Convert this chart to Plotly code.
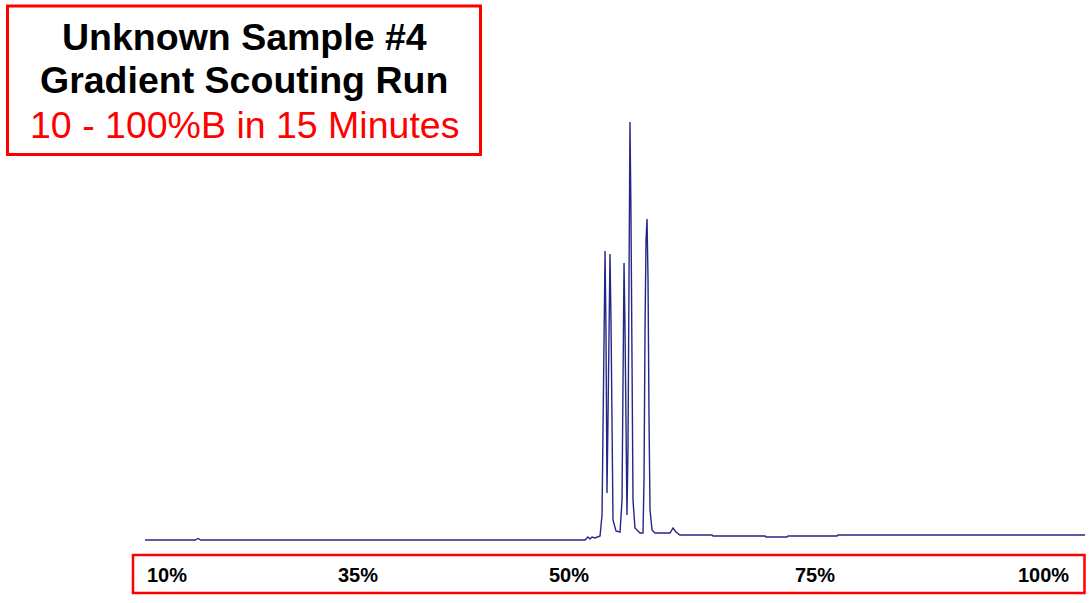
import plotly.graph_objects as go

# Chromatogram trace: retention time (min) and detector signal (mAU)
time_min = [0.00, 0.80, 0.846, 0.89, 7.021, 7.069, 7.101, 7.133, 7.181, 7.229, 7.261,
            7.293, 7.309, 7.325, 7.341, 7.356, 7.372, 7.388, 7.404, 7.420, 7.436, 7.452,
            7.468, 7.516, 7.580, 7.612, 7.628, 7.644, 7.660, 7.676, 7.691, 7.707, 7.723,
            7.739, 7.755, 7.771, 7.787, 7.819, 7.899, 7.947, 7.963, 7.979, 7.995, 8.011,
            8.027, 8.043, 8.059, 8.091, 8.138, 8.378, 8.426, 8.473, 8.537, 9.048, 9.064,
            9.894, 9.910, 10.245, 10.261, 11.043, 11.059, 15.00]
signal_mau = [0, 0, 1.5, 0, 0, 3, 1, 3, 2, 3, 4,
              25, 140, 240, 289, 210, 47, 120, 240, 286, 220, 90,
              20, 9, 8, 40, 190, 277, 210, 90, 25, 90, 290,
              418, 325, 140, 40, 12, 7, 7, 60, 210, 300, 321,
              260, 120, 30, 10, 7, 7, 12, 8, 5, 5, 4,
              4, 3, 3, 4, 4, 5, 5]

# Gradient %B labels and their time positions
gradient_labels = ["10%", "35%", "50%", "75%", "100%"]
gradient_label_time = [0.351, 3.399, 6.766, 10.691, 14.330]

title_lines = ["Unknown Sample #4", "Gradient Scouting Run", "10 - 100%B in 15 Minutes"]

W, H = 1091, 603
px_per_min = 62.667
x0_px = 145
base_py = 540

fig = go.Figure()
fig.add_trace(go.Scatter(x=time_min, y=signal_mau, mode="lines",
                         line=dict(color="#262688", width=1.4),
                         hoverinfo="skip", showlegend=False))

xr = [-x0_px / px_per_min, (W - x0_px) / px_per_min]
yr = [-(H - base_py), base_py]

def px(xp):
    return xp / W

def py(yp):
    return 1 - yp / H

# red boxes
fig.add_shape(type="rect", xref="paper", yref="paper",
              x0=px(7.5), x1=px(480.5), y0=py(154.5), y1=py(6),
              line=dict(color="#ff0000", width=3), fillcolor="rgba(0,0,0,0)")
fig.add_shape(type="rect", xref="paper", yref="paper",
              x0=px(133), x1=px(1084.5), y0=py(593), y1=py(555),
              line=dict(color="#ff0000", width=2.5), fillcolor="rgba(0,0,0,0)")

title_y = [37, 80, 125]
title_col = ["#000000", "#000000", "#ff0000"]
title_bold = [True, True, False]
for t, yy, c, b in zip(title_lines, title_y, title_col, title_bold):
    fig.add_annotation(text=("<b>%s</b>" % t) if b else t, xref="paper", yref="paper",
                       x=px(244), y=py(yy), xanchor="center", yanchor="middle",
                       showarrow=False,
                       font=dict(family="Liberation Sans, Arial", size=37.5, color=c))

for lab, tm in zip(gradient_labels, gradient_label_time):
    fig.add_annotation(text="<b>%s</b>" % lab, xref="x", yref="paper",
                       x=tm, y=py(575), xanchor="center", yanchor="middle",
                       showarrow=False,
                       font=dict(family="Liberation Sans, Arial", size=20, color="#000000"))

fig.update_layout(width=W, height=H, margin=dict(l=0, r=0, t=0, b=0),
                  paper_bgcolor="white", plot_bgcolor="white",
                  xaxis=dict(range=xr, visible=False, fixedrange=True),
                  yaxis=dict(range=yr, visible=False, fixedrange=True),
                  showlegend=False)

fig.write_html("out.html", config={"displayModeBar": False},
               post_script="document.body.style.margin='0';")
